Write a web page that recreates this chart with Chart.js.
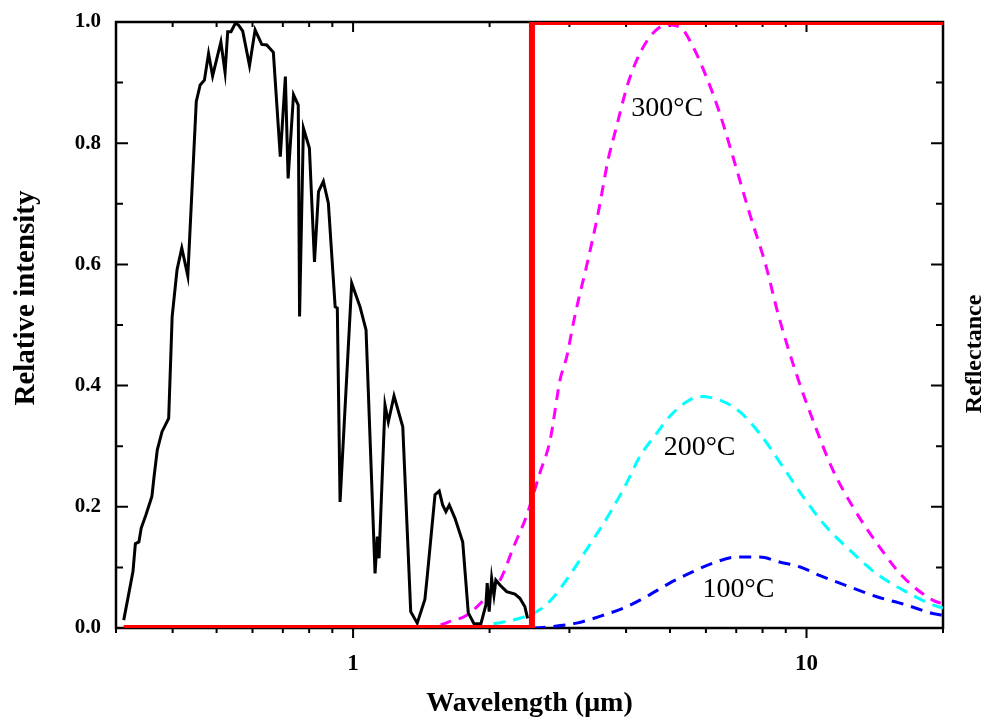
<!DOCTYPE html>
<html>
<head>
<meta charset="utf-8">
<script src="https://cdn.jsdelivr.net/npm/chart.js@4"></script>
<style>
  body { margin: 0; background: #fff; }
  #wrap { width: 986px; height: 722px; }
</style>
</head>
<body>
<div id="wrap"><canvas id="chart" width="986" height="722"></canvas></div>
<script>
// solar spectrum (black), wavelength in µm
var solarX = [0.312, 0.327, 0.331, 0.337, 0.341, 0.349, 0.360, 0.364, 0.370, 0.379, 0.392, 0.399, 0.409, 0.419, 0.432,
  0.451, 0.460, 0.470, 0.480, 0.490, 0.511, 0.522, 0.529, 0.538, 0.550, 0.559, 0.571, 0.591, 0.608, 0.629, 0.645, 0.667,
  0.691, 0.709, 0.719, 0.739, 0.757, 0.762, 0.777, 0.801, 0.822, 0.839, 0.860, 0.882, 0.913, 0.923, 0.936, 0.993, 1.036,
  1.068, 1.118, 1.131, 1.141, 1.176, 1.196, 1.231, 1.287, 1.340, 1.385, 1.440, 1.458, 1.516, 1.549, 1.576, 1.602, 1.630,
  1.678, 1.745, 1.795, 1.848, 1.914, 1.963, 1.976, 1.996, 2.021, 2.045, 2.065, 2.108, 2.181, 2.275, 2.333, 2.393, 2.426];
var solarY = [0.013, 0.093, 0.139, 0.142, 0.165, 0.186, 0.217, 0.250, 0.294, 0.324, 0.346, 0.514, 0.591, 0.627, 0.581,
  0.869, 0.896, 0.904, 0.948, 0.911, 0.967, 0.917, 0.984, 0.984, 0.998, 0.995, 0.985, 0.928, 0.987, 0.963, 0.962, 0.950,
  0.778, 0.910, 0.742, 0.880, 0.863, 0.514, 0.825, 0.792, 0.604, 0.720, 0.737, 0.701, 0.530, 0.528, 0.208, 0.569, 0.530,
  0.492, 0.090, 0.151, 0.115, 0.368, 0.340, 0.383, 0.332, 0.027, 0.008, 0.047, 0.087, 0.220, 0.226, 0.203, 0.192, 0.203,
  0.181, 0.142, 0.025, 0.007, 0.007, 0.038, 0.074, 0.027, 0.082, 0.054, 0.079, 0.071, 0.060, 0.056, 0.049, 0.035, 0.016];

// reflectance step (red)
var reflX = [0.312, 2.48, 2.48, 20];
var reflY = [0, 0, 1, 1];

// blackbody curves
var t300X = [1.56, 1.61, 1.78, 1.94, 2.11, 2.26, 2.41, 2.58, 2.72, 2.86, 2.96, 3.06, 3.14, 3.27, 3.47, 3.65, 3.81, 4.04,
  4.29, 4.59, 4.91, 5.25, 5.62, 6.01, 6.44, 6.88, 7.49, 8.15, 8.65, 9.49, 10.33, 11.43, 12.65, 14.48, 16.30, 18.98, 20];
var t300Y = [0.005, 0.009, 0.021, 0.046, 0.079, 0.134, 0.184, 0.255, 0.310, 0.409, 0.448, 0.503, 0.541, 0.596, 0.684,
  0.772, 0.827, 0.899, 0.948, 0.982, 0.995, 0.992, 0.959, 0.910, 0.849, 0.778, 0.684, 0.596, 0.519, 0.420, 0.343, 0.261,
  0.200, 0.134, 0.085, 0.046, 0.040];

var t200X = [2.04, 2.33, 2.58, 2.76, 3.01, 3.27, 3.68, 4.01, 4.29, 4.67, 4.99, 5.43, 5.81, 6.44, 7.12, 7.88, 8.87, 9.82,
  11.05, 12.44, 14.24, 16.30, 18.98, 20];
var t200Y = [0.007, 0.016, 0.030, 0.050, 0.088, 0.129, 0.189, 0.239, 0.283, 0.321, 0.349, 0.373, 0.382, 0.376, 0.357,
  0.321, 0.266, 0.217, 0.167, 0.129, 0.090, 0.063, 0.038, 0.033];

var t100X = [2.5, 2.72, 3.11, 3.56, 4.01, 4.44, 4.99, 5.62, 6.22, 7.00, 7.88, 8.72, 9.65, 10.68, 12.44, 14.24, 16.59,
  18.98, 20];
var t100Y = [0.0, 0.002, 0.008, 0.021, 0.035, 0.052, 0.074, 0.093, 0.107, 0.117, 0.117, 0.109, 0.101, 0.087, 0.068,
  0.052, 0.038, 0.024, 0.021];

var curveLabels = ["300°C", "200°C", "100°C"];
var labelX = [4.93, 5.81, 7.08];
var labelY = [0.845, 0.285, 0.051];

var xTickVals = [0.3, 0.4, 0.5, 0.6, 0.7, 0.8, 0.9, 1, 2, 3, 4, 5, 6, 7, 8, 9, 10, 20];
var xMajor = [1, 10];
var yTickVals = [0, 0.1, 0.2, 0.3, 0.4, 0.5, 0.6, 0.7, 0.8, 0.9, 1.0];

function pts(xs, ys) {
  return xs.map(function (x, i) { return { x: x, y: ys[i] }; });
}

var serif = "'Liberation Serif', 'Times New Roman', serif";

var framePlugin = {
  id: "frame",
  beforeDatasetsDraw: function (chart) {
    var ctx = chart.ctx, a = chart.chartArea;
    var xs = chart.scales.x, ys = chart.scales.y;
    ctx.save();
    ctx.strokeStyle = "#000";
    ctx.lineWidth = 2.5;
    ctx.strokeRect(a.left, a.top, a.right - a.left, a.bottom - a.top);
    ctx.lineWidth = 2;
    ctx.beginPath();
    xTickVals.forEach(function (v) {
      var px = xs.getPixelForValue(v);
      var major = xMajor.indexOf(v) >= 0;
      ctx.moveTo(px, a.bottom);
      ctx.lineTo(px, a.bottom + (major ? 10 : 5));
      ctx.moveTo(px, a.top);
      ctx.lineTo(px, a.top + (major ? 10 : 5));
    });
    yTickVals.forEach(function (v, i) {
      var py = ys.getPixelForValue(v);
      var len = i % 2 === 0 ? 12 : 7;
      ctx.moveTo(a.left, py);
      ctx.lineTo(a.left + len, py);
      ctx.moveTo(a.right, py);
      ctx.lineTo(a.right - len, py);
    });
    ctx.stroke();
    ctx.restore();
  },
  afterDatasetsDraw: function (chart) {
    var ctx = chart.ctx;
    var xs = chart.scales.x, ys = chart.scales.y;
    ctx.save();
    ctx.fillStyle = "#000";
    ctx.font = "28px " + serif;
    ctx.textAlign = "center";
    ctx.textBaseline = "alphabetic";
    curveLabels.forEach(function (t, i) {
      ctx.fillText(t, xs.getPixelForValue(labelX[i]), ys.getPixelForValue(labelY[i]));
    });
    ctx.font = "bold 29px " + serif;
    ctx.textBaseline = "middle";
    ctx.translate(27, 298);
    ctx.rotate(-Math.PI / 2);
    ctx.fillText("Relative intensity", 0, 0);
    ctx.restore();
    ctx.save();
    ctx.fillStyle = "#000";
    ctx.font = "bold 24px " + serif;
    ctx.textAlign = "center";
    ctx.textBaseline = "middle";
    ctx.translate(975, 354);
    ctx.rotate(-Math.PI / 2);
    ctx.fillText("Reflectance", 0, 0);
    ctx.restore();
  }
};

new Chart(document.getElementById("chart").getContext("2d"), {
  type: "line",
  data: {
    datasets: [
      { label: "Reflectance", data: pts(reflX, reflY), borderColor: "#ff0000", borderWidth: 6, pointRadius: 0, tension: 0 },
      { label: "Solar", data: pts(solarX, solarY), borderColor: "#000", borderWidth: 3, pointRadius: 0, tension: 0 },
      { label: "300°C", data: pts(t300X, t300Y), borderColor: "#ff00ff", borderWidth: 3, borderDash: [11, 8], pointRadius: 0, cubicInterpolationMode: "monotone" },
      { label: "200°C", data: pts(t200X, t200Y), borderColor: "#00ffff", borderWidth: 3, borderDash: [12, 8], pointRadius: 0, cubicInterpolationMode: "monotone" },
      { label: "100°C", data: pts(t100X, t100Y), borderColor: "#0000ff", borderWidth: 3, borderDash: [12, 8], pointRadius: 0, cubicInterpolationMode: "monotone" }
    ]
  },
  options: {
    responsive: false,
    animation: false,
    layout: { padding: { top: 22, left: 0, right: 0, bottom: 0 } },
    plugins: { legend: { display: false }, tooltip: { enabled: false } },
    scales: {
      x: {
        type: "logarithmic",
        position: "bottom",
        min: 0.3,
        max: 20,
        grid: { display: false },
        border: { display: false },
        afterBuildTicks: function (s) { s.ticks = xTickVals.map(function (v) { return { value: v }; }); },
        afterFit: function (s) { s.height = 94; },
        ticks: {
          autoSkip: false,
          maxRotation: 0,
          padding: 14,
          color: "#000",
          font: { family: serif, size: 23, weight: "bold" },
          callback: function (v) { return xMajor.indexOf(v) >= 0 ? String(v) : ""; }
        },
        title: {
          display: true,
          text: "Wavelength (μm)",
          color: "#000",
          font: { family: serif, size: 28, weight: "bold" },
          padding: { top: 0, bottom: 1 }
        }
      },
      y: {
        position: "left",
        min: 0,
        max: 1,
        grid: { display: false },
        border: { display: false },
        afterFit: function (s) { s.width = 116; },
        ticks: {
          stepSize: 0.2,
          padding: 7,
          color: "#000",
          font: { family: serif, size: 21, weight: "bold" },
          callback: function (v) { return v.toFixed(1); }
        }
      },
      y2: {
        position: "right",
        min: 0,
        max: 1,
        grid: { display: false },
        border: { display: false },
        afterFit: function (s) { s.width = 43; },
        ticks: { display: false }
      }
    }
  },
  plugins: [framePlugin]
});
</script>
</body>
</html>
